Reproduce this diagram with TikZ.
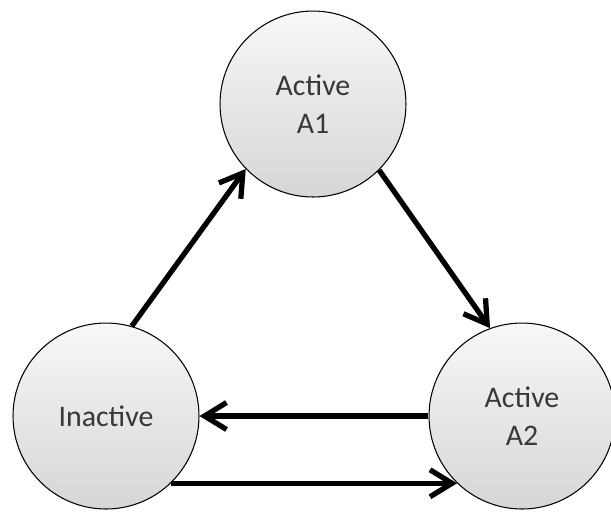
\documentclass[tikz,border=0pt]{standalone}
\usepackage{fontspec}
\setmainfont{Carlito}
\usetikzlibrary{arrows.meta}

\begin{document}
\begin{tikzpicture}[x=0.02cm, y=-0.02cm]
    \useasboundingbox (0, 0) rectangle (611, 512);

    % Define the look of the states and of the moves between them
    \tikzset{
      state/.style={
        circle, draw=black, line width=0.6pt, minimum size=3.72cm,
        top color=gray!6, bottom color=gray!32,
        text=black!78, align=center, font=\fontsize{17}{22}\selectfont
      },
      move/.style={
        line width=3pt, -{Straight Barb[length=4.4mm, width=5.4mm]}
      }
    }

    \node[state] (a1) at (313, 104) {Active\\A1};
    \node[state] (in) at (106, 416) {Inactive};
    \node[state] (a2) at (522, 416) {Active\\A2};

    \draw[move] (in.74) -- (a1.224);
    \draw[move] (a1.315) -- (a2.110);
    \draw[move] (a2.west) -- (in.east);
    \draw[move] (in.-46) -- (a2.226);
\end{tikzpicture}
\end{document}
